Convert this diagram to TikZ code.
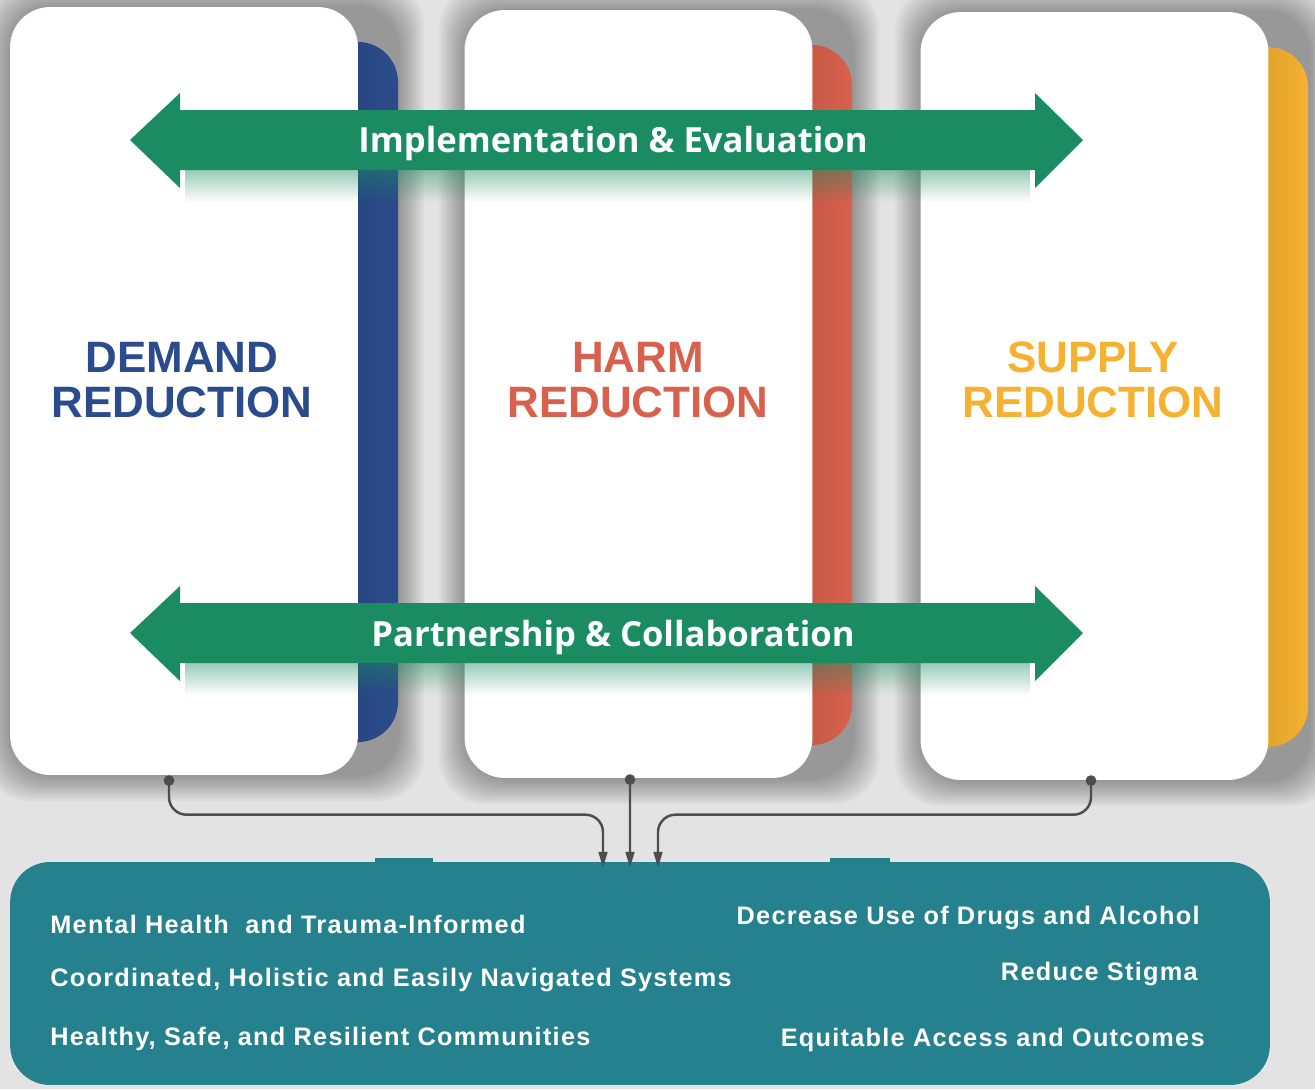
\documentclass[tikz,border=0pt]{standalone}
\usepackage{fontspec}
\usetikzlibrary{calc, arrows.meta, positioning, fadings}

\newfontfamily\titlefont{Liberation Sans}
\newfontfamily\goalfont{Liberation Sans}[LetterSpace=5]
\newfontfamily\bandfont{Open Sans}

\definecolor{bgcolor}{HTML}{E4E3E3}
\definecolor{demandblue}{HTML}{2B4C8C}
\definecolor{harmred}{HTML}{D8614D}
\definecolor{supplyorange}{HTML}{F5B130}
\definecolor{bandgreen}{HTML}{1B8C62}
\definecolor{goalteal}{HTML}{25818D}
\definecolor{linkgray}{HTML}{4D4D4D}

\begin{document}
\begin{tikzpicture}[x=0.02cm, y=-0.02cm, >=latex]
				\tikzstyle{card}  = [fill=white, rounded corners=0.8cm, minimum width=6.96cm, minimum height=15.36cm, inner sep=0pt]
				\tikzstyle{halo}  = [fill=black, opacity=0.028, rounded corners=0.9cm]
				\tikzstyle{tab}   = [rounded corners=0.8cm]
				\tikzstyle{title} = [align=center, font=\titlefont\bfseries\fontsize{25}{25.5}\selectfont]
				\tikzstyle{band}  = [text=white, font=\bandfont\bfseries\fontsize{19.7}{22}\selectfont]
				\tikzstyle{goalbox} = [fill=goalteal, rounded corners=0.8cm, minimum width=25.2cm, minimum height=4.46cm, inner sep=0pt]
				\tikzstyle{goal}  = [text=white, inner sep=0pt, font=\goalfont\bfseries\fontsize{14.4}{16}\selectfont]
				\tikzstyle{link}  = [draw=linkgray, line width=1.4pt, rounded corners=0.35cm, {Circle[length=6pt]}-{Triangle[length=9pt,width=5pt]}]
				
				\useasboundingbox (0,0) rectangle (1315,1089);
				\fill[bgcolor] (0,0) rectangle (1315,1089);
				
				% soft shadows round the pillars
				\foreach \xl/\yt in {10/7, 465/10, 921/12} {
					\foreach \d in {2,4,...,26}
						\fill[halo] (\xl-\d,\yt-\d) rectangle (\xl+348+\d+40,\yt+768+\d);
				}
				
				% coloured tabs behind the cards
				\shade[tab, left color=demandblue!85!black, right color=demandblue] (320,42) rectangle (398,742);
				\shade[tab, left color=harmred!85!black, right color=harmred] (775,45) rectangle (852,745);
				\shade[tab, left color=supplyorange!85!black, right color=supplyorange] (1230,47) rectangle (1308,747);
				
				% the three pillars
				\node[card] at (184,391)    (demand) {};
				\node[card] at (638.5,394)  (harm)   {};
				\node[card] at (1094.5,396) (supply) {};
				
				\node[title, text=demandblue]   at (182,380)  (demandtitle) {DEMAND\\REDUCTION};
				\node[title, text=harmred]      at (638,380)  (harmtitle)   {HARM\\REDUCTION};
				\node[title, text=supplyorange] at (1093,380) (supplytitle) {SUPPLY\\REDUCTION};
				
				% green double arrows
				\foreach \y/\txt/\name in {140/Implementation \& Evaluation/impl, 633/Partnership \& Collaboration/partner} {
					\fill[bandgreen, opacity=0.45, path fading=south] (185,\y+30) rectangle (1030,\y+62);
					\fill[bandgreen] (130,\y) -- (180,\y-47) -- (180,\y-30) -- (1035,\y-30) -- (1035,\y-47) -- (1083,\y)
						-- (1035,\y+48) -- (1035,\y+30) -- (180,\y+30) -- (180,\y+48) -- cycle;
					\node[band] at (613,\y+4) (\name) {\txt};
				}
				
				% outcomes
				\fill[goalteal] (375,858) rectangle (433,866);
				\fill[goalteal] (830,858) rectangle (890,866);
				\node[goalbox] at (640,973.5) (goals) {};
				
				\node[goal, anchor=west] at (50,924)  (g1) {Mental Health~ and Trauma-Informed};
				\node[goal, anchor=west] at (50,980)  (g2) {Coordinated, Holistic and Easily Navigated Systems};
				\node[goal, anchor=west] at (50,1039) (g3) {Healthy, Safe, and Resilient Communities};
				\node[goal, anchor=east] at (1200,918)  (g4) {Decrease Use of Drugs and Alcohol};
				\node[goal, anchor=east] at (1198,974)  (g5) {Reduce Stigma};
				\node[goal, anchor=east] at (1205,1040) (g6) {Equitable Access and Outcomes};
				
				% connectors
				\draw[link] ([xshift=-0.3cm]demand.south) |- ([xshift=-0.74cm,yshift=0.94cm]goals.north) -- ([xshift=-0.74cm,yshift=-0.12cm]goals.north);
				\draw[link] ([xshift=-0.17cm,yshift=0.08cm]harm.south) -- ([xshift=-0.2cm,yshift=-0.12cm]goals.north);
				\draw[link] ([xshift=-0.07cm,yshift=0.1cm]supply.south) |- ([xshift=0.36cm,yshift=0.94cm]goals.north) -- ([xshift=0.36cm,yshift=-0.12cm]goals.north);
\end{tikzpicture}
\end{document}
